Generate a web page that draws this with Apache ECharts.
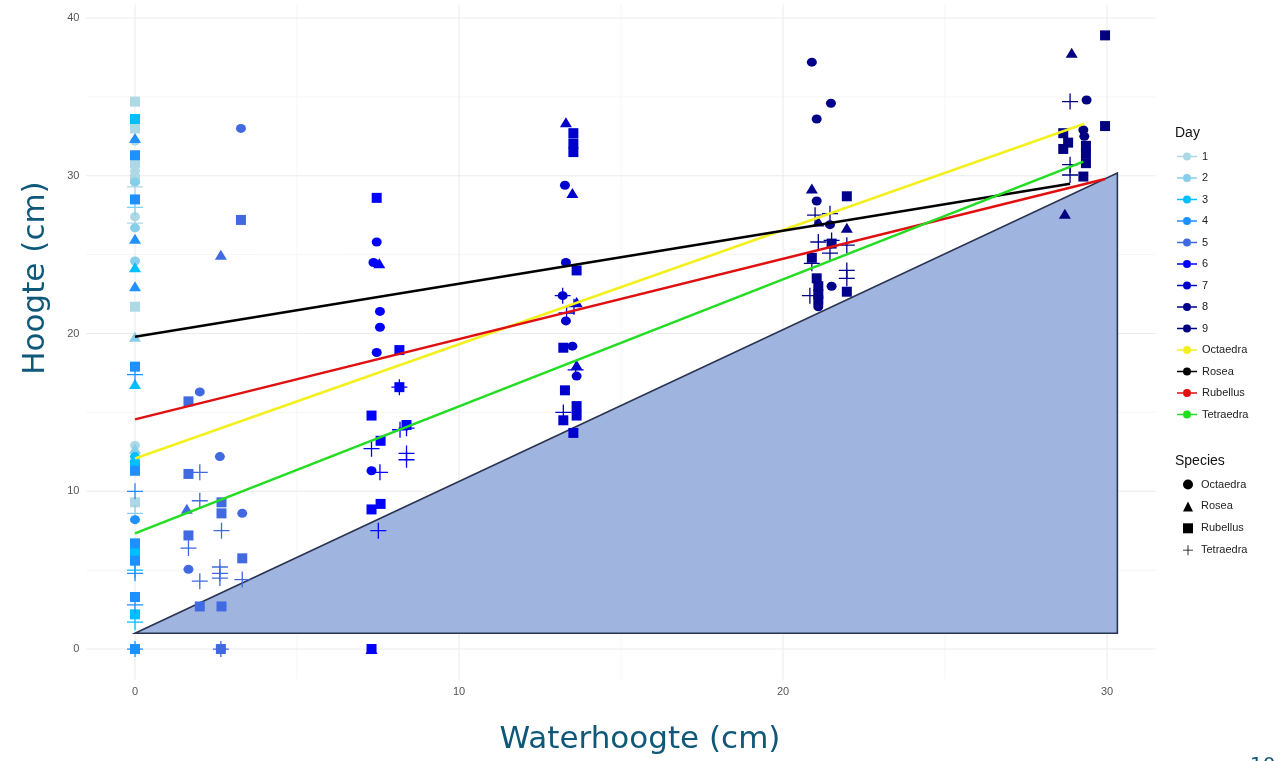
<!DOCTYPE html>
<html>
<head>
<meta charset="utf-8">
<script src="https://cdn.jsdelivr.net/npm/echarts@6/dist/echarts.min.js"></script>
<style>html,body{margin:0;padding:0;background:#fff;}#c{width:1282px;height:761px;}</style>
</head>
<body>
<div id="c"></div>
<script>
// ---- data: [waterhoogte, hoogte, species]  O=Octaedra R=Rosea B=Rubellus T=Tetraedra
const day1 = [[0,34.7,'B'],[0,33.0,'B'],[0,32.2,'O'],[0,30.8,'B'],[0,30.3,'O'],[0,29.8,'B'],[0,29.3,'T'],[0,27.4,'O'],[0,27.0,'T'],[0,21.7,'B'],[0,12.9,'O'],[0,9.3,'B']];
const day2 = [[0,29.6,'O'],[0,28.0,'T'],[0,26.7,'O'],[0,24.6,'O'],[0,19.8,'R'],[0,12.7,'R'],[0,8.6,'T']];
const day3 = [[0,33.6,'B'],[0,24.2,'R'],[0,16.8,'R'],[0,12.2,'O'],[0,11.7,'B'],[0,6.2,'B'],[0,5.0,'T'],[0,2.2,'B'],[0,1.7,'T']];
const day4 = [[0,32.4,'R'],[0,31.3,'B'],[0,28.5,'B'],[0,26.0,'R'],[0,23.0,'R'],[0,17.9,'B'],[0,17.4,'T'],[0,11.3,'B'],[0,10.0,'T'],[0,8.2,'O'],[0,6.7,'B'],[0,5.6,'B'],[0,4.8,'T'],[0,3.3,'B'],[0,2.8,'T'],[0,0,'B'],[0,0,'T']];
const day5 = [[3.27,33.0,'O'],[3.27,27.2,'B'],[2.65,25.0,'R'],[1.65,15.7,'B'],[2.0,16.3,'O'],[2.62,12.2,'O'],[1.65,11.1,'B'],[2.0,11.2,'T'],[2.0,9.4,'T'],[2.67,9.3,'B'],[1.6,8.9,'R'],[2.67,8.6,'B'],[3.31,8.6,'O'],[2.67,7.5,'T'],[1.65,7.2,'B'],[1.65,6.4,'T'],[3.31,5.75,'B'],[1.65,5.05,'O'],[2.62,5.2,'T'],[2.62,4.8,'T'],[2.62,4.5,'T'],[2.0,4.3,'T'],[3.31,4.4,'T'],[2.0,2.7,'B'],[2.67,2.7,'B'],[2.65,0,'O'],[2.65,0,'B'],[2.65,0,'T']];
const day6 = [[7.46,28.6,'B'],[7.46,25.8,'O'],[7.36,24.5,'O'],[7.54,24.45,'R'],[7.56,21.4,'O'],[7.56,20.4,'O'],[7.46,18.8,'O'],[8.16,18.95,'B'],[8.16,16.6,'B'],[8.16,16.6,'T'],[7.3,14.8,'B'],[8.38,14.2,'B'],[8.18,13.9,'T'],[8.38,14.0,'T'],[7.58,13.2,'B'],[7.3,12.7,'T'],[8.38,12.4,'T'],[8.38,12.0,'T'],[7.3,11.3,'O'],[7.56,11.2,'T'],[7.3,8.85,'B'],[7.58,9.2,'B'],[7.51,7.5,'T'],[7.3,0,'R'],[7.3,0,'B']];
const day7 = [[13.3,33.4,'R'],[13.53,32.7,'B'],[13.53,32.05,'B'],[13.53,31.5,'B'],[13.27,29.4,'O'],[13.5,28.9,'R'],[13.3,24.5,'O'],[13.63,24.0,'B'],[13.2,22.4,'O'],[13.2,22.4,'T'],[13.63,22.0,'R'],[13.55,21.7,'T'],[13.32,21.3,'T'],[13.3,20.8,'O'],[13.22,19.1,'B'],[13.5,19.2,'O'],[13.63,18.0,'R'],[13.6,17.7,'T'],[13.63,17.3,'O'],[13.27,16.4,'B'],[13.63,15.4,'B'],[13.63,14.8,'B'],[13.22,15.0,'T'],[13.22,14.5,'B'],[13.53,13.7,'B']];
const day8 = [[20.89,37.2,'O'],[21.48,34.6,'O'],[21.04,33.6,'O'],[20.89,29.2,'R'],[21.04,28.4,'O'],[21.97,28.7,'B'],[20.99,27.5,'T'],[21.45,27.6,'T'],[21.09,27.1,'R'],[21.45,26.9,'O'],[21.97,26.7,'R'],[21.09,25.8,'T'],[21.5,25.9,'T'],[21.5,25.7,'B'],[21.97,25.6,'T'],[21.45,25.1,'T'],[20.89,24.8,'B'],[20.89,24.45,'T'],[21.97,24.0,'T'],[21.97,23.5,'T'],[21.04,23.5,'B'],[21.09,23.0,'B'],[21.5,23.0,'O'],[21.97,22.65,'B'],[21.09,22.5,'B'],[20.83,22.4,'T'],[21.09,22.1,'B'],[21.09,21.7,'O']];
const day9 = [[29.94,38.9,'B'],[28.91,37.8,'R'],[28.86,34.7,'T'],[29.37,34.8,'O'],[29.94,33.15,'B'],[29.27,32.9,'O'],[28.65,32.7,'B'],[28.8,32.1,'B'],[28.65,31.7,'B'],[29.3,32.5,'O'],[29.35,31.9,'B'],[29.35,31.4,'B'],[29.35,30.8,'B'],[28.86,30.7,'T'],[28.86,30.05,'T'],[29.27,29.95,'B'],[28.7,27.6,'R']];

const dayNames = ['1','2','3','4','5','6','7','8','9'];
const speciesNames = ['Octaedra','Rosea','Rubellus','Tetraedra'];
const speciesCodes = ['O','R','B','T'];

// regression lines per species: [x0, y0, x1, y1]
const fitOctaedra  = [0, 12.08, 29.3, 33.3];
const fitRosea     = [0, 19.8, 28.86, 29.5];
const fitRubellus  = [0, 14.56, 29.94, 29.8];
const fitTetraedra = [0, 7.33, 29.27, 30.9];

// shaded region (polygon vertices)
const regionX = [0, 30.32, 30.32];
const regionY = [1.0, 1.0, 30.18];

// gridlines and tick labels
const xMajor = [0, 10, 20, 30];
const xMinor = [5, 15, 25];
const yMajor = [0, 10, 20, 30, 40];
const yMinor = [5, 15, 25, 35];
const xRange = [-1.5, 31.5];
const yRange = [-1.95, 40.85];

// ---- styling
const dayColors = ['#add8e6','#87ceeb','#00bfff','#1e90ff','#4169e1','#0000ff','#0000cd','#00008b','#000080'];
const fitColors = ['#f2f01e','#000000','#e01010','#22dd22'];
const crossPath = 'path://M7.35,0H8.65V16H7.35ZM0,7.35H16V8.65H0Z';
const symOf = {O:'circle', R:'triangle', B:'rect', T:crossPath};
const sizeOf = {O:[10,9], R:[12,10], B:[10,10], T:[16,16]};
const keyIcon = 'path://M0,4.2H6V5.8H0ZM14,4.2H20V5.8H14ZM6,5A4,4 0 1,1 14,5A4,4 0 1,1 6,5Z';
const labelFont = 'Liberation Sans';

const days = [day1,day2,day3,day4,day5,day6,day7,day8,day9];
const fits = [fitOctaedra, fitRosea, fitRubellus, fitTetraedra];

const series = [];

// gridlines
function gridSeries(vals, vertical, color, width) {
  vals.forEach(v => {
    series.push({
      type: 'line', silent: true, symbol: 'none', z: 0,
      lineStyle: {color: color, width: width},
      data: vertical ? [[v, yRange[0]],[v, yRange[1]]] : [[xRange[0], v],[xRange[1], v]]
    });
  });
}
gridSeries(xMinor, true, '#f3f3f3', 0.8);
gridSeries(yMinor, false, '#f3f3f3', 0.8);
gridSeries(xMajor, true, '#ebebeb', 1.1);
gridSeries(yMajor, false, '#ebebeb', 1.1);

// shaded region
series.push({
  type: 'custom', silent: true, z: 1,
  data: [[regionX[0], regionY[0]]],
  renderItem: function (params, api) {
    const pts = regionX.map((x, i) => api.coord([x, regionY[i]]));
    return {type: 'polygon', shape: {points: pts},
      style: {fill: '#9fb5df', stroke: '#2a3452', lineWidth: 1.6}};
  }
});

// points by day
days.forEach((d, i) => {
  series.push({
    type: 'scatter', name: dayNames[i], z: 3, silent: true,
    itemStyle: {color: dayColors[i], opacity: 1},
    data: d.map(p => ({value: [p[0], p[1]], symbol: symOf[p[2]], symbolSize: sizeOf[p[2]]}))
  });
});

// fitted lines
fits.forEach((f, i) => {
  series.push({
    type: 'line', name: speciesNames[i], z: 4, silent: true,
    symbol: 'circle', showSymbol: false,
    color: fitColors[i],
    lineStyle: {color: fitColors[i], width: 2.5},
    itemStyle: {color: fitColors[i], opacity: 1},
    data: [[f[0], f[1]], [f[2], f[3]]]
  });
});

// species key (shape legend)
speciesCodes.forEach((c, i) => {
  series.push({
    type: 'scatter', name: 'sp:' + speciesNames[i], data: [],
    symbol: symOf[c], itemStyle: {color: '#000', opacity: 1}
  });
});

const chart = echarts.init(document.getElementById('c'), null, {renderer: 'canvas'});
chart.setOption({
  animation: false,
  backgroundColor: '#ffffff',
  grid: {left: 86.4, right: 126.4, top: 4.6, bottom: 81.2},
  xAxis: {
    type: 'value', min: xRange[0], max: xRange[1], splitNumber: 3,
    axisLine: {show: false}, axisTick: {show: false}, splitLine: {show: false},
    axisLabel: {
      margin: 7, fontSize: 11, color: '#555', fontFamily: labelFont,
      showMinLabel: true, showMaxLabel: true,
      formatter: v => (xMajor.indexOf(v) >= 0 ? String(v) : '')
    }
  },
  yAxis: {
    type: 'value', min: yRange[0], max: yRange[1], splitNumber: 4,
    axisLine: {show: false}, axisTick: {show: false}, splitLine: {show: false},
    axisLabel: {
      margin: 7, fontSize: 11, color: '#555', fontFamily: labelFont,
      formatter: v => (yMajor.indexOf(v) >= 0 ? String(v) : '')
    }
  },
  legend: [
    {
      orient: 'vertical', left: 1172, top: 146, itemWidth: 20, itemHeight: 8, itemGap: 10.5,
      icon: keyIcon, selectedMode: false,
      itemStyle: {opacity: 1},
      textStyle: {fontSize: 11, color: '#222', fontFamily: labelFont},
      data: dayNames.concat(speciesNames)
    },
    {
      orient: 'vertical', left: 1178, top: 474, itemWidth: 10, itemHeight: 10, itemGap: 10.9,
      selectedMode: false,
      itemStyle: {opacity: 1},
      textStyle: {fontSize: 11, color: '#222', fontFamily: labelFont, padding: [0,0,0,3]},
      formatter: n => n.slice(3),
      data: speciesNames.map(n => 'sp:' + n)
    }
  ],
  graphic: [
    {type: 'text', left: 1175, top: 126, style: {text: 'Day', font: '14px "Liberation Sans"', fill: '#111'}},
    {type: 'text', left: 1175, top: 454, style: {text: 'Species', font: '14px "Liberation Sans"', fill: '#111'}},
    {type: 'text', x: 36, y: 278, rotation: Math.PI / 2,
      style: {text: 'Hoogte (cm)', font: '31px "DejaVu Sans"', fill: '#0f587a', align: 'center', verticalAlign: 'middle'}},
    {type: 'text', x: 640, y: 740,
      style: {text: 'Waterhoogte (cm)', font: '31px "DejaVu Sans"', fill: '#0f587a', align: 'center', verticalAlign: 'middle'}},
    {type: 'text', x: 1250, y: 756,
      style: {text: '10', font: '20px "DejaVu Sans"', fill: '#0f587a', align: 'left', verticalAlign: 'top'}}
  ],
  series: series
});
</script>
</body>
</html>
